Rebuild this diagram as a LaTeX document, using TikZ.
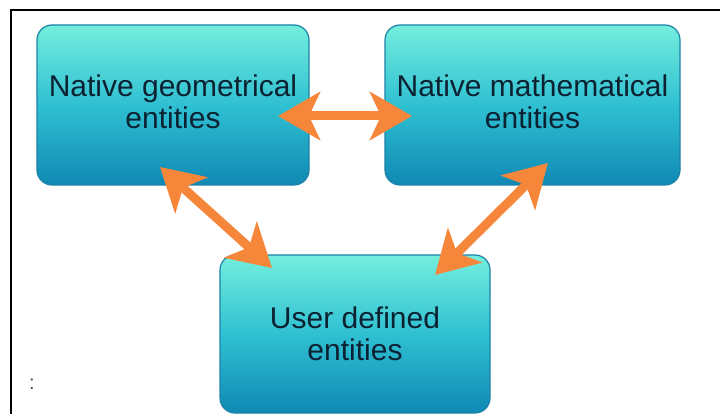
\documentclass[tikz,border=0pt]{standalone}
\usepackage{fontspec}
\setmainfont{Liberation Sans}
\usetikzlibrary{arrows.meta}
\definecolor{boxtop}{HTML}{74EEDD}
\definecolor{boxmid}{HTML}{2FC0D2}
\definecolor{boxbot}{HTML}{1089B4}
\definecolor{boxline}{HTML}{1C82A6}
\definecolor{txt}{HTML}{0C2232}
\definecolor{arr}{HTML}{F6873A}
\tikzset{
  entbox/.style={draw=boxline, line width=1.2pt, rounded corners=15pt,
    top color=boxtop, bottom color=boxbot, middle color=boxmid,
    text=txt, align=center, inner sep=0pt,
    font=\fontsize{30}{32}\selectfont},
  link/.style={draw=arr, line width=9pt,
    {Stealth[length=42pt,width=48pt,inset=11pt]}-{Stealth[length=42pt,width=48pt,inset=11pt]}},
  frameline/.style={draw=black, line width=2pt}
}
\begin{document}
\begin{tikzpicture}[x=1pt,y=-1pt]
\useasboundingbox (0,0) rectangle (720,414);
\fill[white] (0,0) rectangle (720,414);
\draw[frameline] (11,415) -- (11,10) -- (721,10);
\node[entbox, minimum width=272pt, minimum height=160pt] (geo) at (173,105) {Native geometrical\\entities\rule[-6pt]{0pt}{0pt}};
\node[entbox, minimum width=295pt, minimum height=160pt] (math) at (532.5,105) {Native mathematical\\entities\rule[-6pt]{0pt}{0pt}};
\node[entbox, minimum width=270pt, minimum height=158pt] (user) at (355,334) {User defined\\entities};
\node[text=black!70, font=\fontsize{20}{20}\selectfont] (colon) at (32,384) {:};
\coordinate (a1) at (278,116);
\coordinate (a2) at (412,116);
\coordinate (b1) at (160,167);
\coordinate (b2) at (272,268);
\coordinate (c1) at (548,163);
\coordinate (c2) at (435,275);
\draw[link] (a1) -- (a2);
\draw[link] (b1) -- (b2);
\draw[link] (c1) -- (c2);
\end{tikzpicture}
\end{document}
